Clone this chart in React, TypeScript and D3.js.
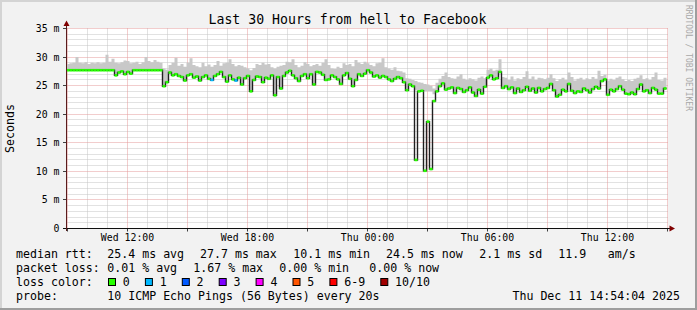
import React from 'react';
import * as d3 from 'd3';

// ---------- data ----------
const START_HOUR = 8.95; // hours since Wed 00:00
const STEP_HOURS = 0.15;
const END_HOUR = 39.0;

// median rtt in ms, one value per 9 minutes
const median = [
  27.7, 27.7, 27.7, 27.7, 27.7, 27.7, 27.7, 27.7, 27.7, 27.7,
  27.7, 27.7, 27.7, 27.7, 27.7, 27.7, 26.8, 27.3, 27.5, 27.0,
  27.4, 27.1, 27.7, 27.7, 27.7, 27.7, 27.7, 27.7, 27.7, 27.7,
  27.7, 27.7, 24.9, 25.6, 27.3, 26.8, 27.0, 26.7, 26.5, 25.9,
  26.8, 27.0, 26.4, 26.6, 25.9, 26.5, 26.8, 26.2, 26.0, 26.7,
  27.0, 27.4, 26.5, 25.7, 26.8, 26.1, 25.9, 26.4, 25.2, 26.3,
  26.7, 24.0, 26.0, 26.6, 26.5, 25.6, 26.4, 26.2, 26.8, 23.3,
  26.5, 24.5, 26.7, 27.3, 27.6, 26.8, 26.3, 25.8, 26.7, 27.0,
  26.3, 27.0, 25.2, 27.4, 27.3, 26.9, 26.0, 26.1, 26.8, 26.5,
  26.1, 25.3, 26.8, 27.2, 26.2, 24.9, 26.0, 27.0, 26.7, 27.1,
  27.7, 27.3, 26.6, 26.8, 26.4, 26.7, 26.5, 26.1, 25.8, 26.2,
  26.5, 26.3, 25.6, 24.2, 25.2, 24.9, 12.0, 24.0, 24.1, 10.1,
  18.7, 10.4, 22.3, 24.0, 24.9, 25.4, 24.3, 24.5, 24.7, 23.7,
  24.6, 24.4, 23.9, 24.2, 24.7, 23.8, 23.2, 24.3, 23.6, 24.8,
  26.4, 26.8, 26.1, 26.3, 27.4, 24.6, 24.9, 24.4, 24.7, 23.7,
  24.5, 23.9, 24.2, 24.8, 24.1, 24.5, 23.8, 24.6, 24.0, 24.4,
  24.6, 25.3, 24.2, 23.1, 23.4, 24.3, 24.0, 25.3, 24.1, 23.7,
  24.0, 23.9, 24.5, 24.2, 23.8, 24.4, 24.8, 24.5, 25.8, 26.1,
  23.4, 24.3, 24.0, 24.4, 24.9, 24.3, 23.6, 23.5, 23.8, 23.5,
  24.4, 25.2, 24.0, 24.2, 23.7, 24.6, 24.3, 23.6, 23.6, 24.5,
];

// top of the smoke (slowest ping) in ms
const smokeMax = [
  28.8, 28.9, 29.0, 30.0, 29.0, 28.9, 29.1, 28.8, 29.0, 28.9,
  29.1, 28.9, 29.0, 30.4, 29.2, 29.7, 29.0, 28.9, 29.1, 29.4,
  29.3, 28.9, 29.0, 29.2, 28.8, 29.1, 30.0, 29.3, 29.1, 29.5,
  29.2, 29.0, 28.0, 27.8, 28.6, 29.0, 29.9, 28.5, 28.8, 28.3,
  29.0, 29.8, 28.6, 28.4, 28.2, 29.0, 28.4, 28.7, 28.3, 28.6,
  29.3, 28.5, 28.9, 29.0, 29.6, 28.8, 28.4, 28.6, 28.5, 28.2,
  28.0, 27.7, 28.1, 28.8, 28.6, 29.0, 28.7, 28.8, 28.2, 28.0,
  28.3, 28.5, 28.6, 29.2, 29.1, 29.6, 28.6, 28.2, 28.5, 29.1,
  28.8, 28.4, 28.6, 28.8, 28.5, 29.0, 29.6, 28.6, 28.0, 27.9,
  28.3, 28.1, 28.9, 28.6, 28.8, 28.4, 29.5, 29.0, 28.8, 29.2,
  28.9, 28.6, 28.4, 28.9, 29.0, 29.8, 28.2, 28.0, 27.8, 28.2,
  27.6, 27.5, 27.3, 26.3, 26.2, 26.0, 25.8, 25.6, 25.5, 25.3,
  25.2, 25.0, 24.5, 25.5, 26.2, 26.7, 27.3, 26.5, 26.3, 26.2,
  26.6, 27.0, 26.2, 26.0, 26.3, 26.1, 25.9, 26.4, 26.6, 26.3,
  27.8, 28.0, 27.6, 27.8, 29.6, 26.5, 26.4, 26.0, 26.6, 25.9,
  26.3, 26.1, 26.5, 27.5, 26.2, 26.6, 26.0, 26.4, 26.3, 26.1,
  26.4, 27.0, 26.3, 25.8, 26.1, 26.4, 26.0, 27.3, 26.5, 25.9,
  26.2, 26.4, 26.0, 26.3, 26.1, 26.5, 26.2, 27.6, 26.7, 26.9,
  25.9, 26.2, 26.0, 26.4, 26.6, 26.1, 25.8, 26.0, 25.8, 26.2,
  26.4, 26.8, 26.1, 26.3, 26.0, 26.5, 27.3, 26.0, 25.9, 26.4,
];

// bottom of the smoke where it does not start at the median (the deep dips)
const smokeLowOverride: [number, number][] = [
  [116, 24.2], [119, 24.0], [120, 24.0], [121, 24.0], [122, 23.5],
];

// sample indices with 1 lost ping
const lossOnePoints = [48, 56];

const yTicks = [0, 5, 10, 15, 20, 25, 30, 35];
const yTickLabels = ['0', '5 m', '10 m', '15 m', '20 m', '25 m', '30 m', '35 m'];
const xTickHours = [12, 18, 24, 30, 36];
const xTickLabels = ['Wed 12:00', 'Wed 18:00', 'Thu 00:00', 'Thu 06:00', 'Thu 12:00'];

const lossLabels = ['0', '1', '2', '3', '4', '5', '6-9', '10/10'];
const lossColors = ['#26ff00', '#00b8ff', '#0059ff', '#7e00ff', '#ff00ff', '#ff5500', '#ff0000', '#a10000'];

const medianRow = ['median rtt:', '25.4 ms avg', '27.7 ms max', '10.1 ms min', '24.5 ms now', '2.1 ms sd', '11.9', 'am/s'];
const lossRow = ['packet loss:', '0.01 % avg', '1.67 % max', '0.00 % min', '0.00 % now'];
const probeRow = ['probe:', '10 ICMP Echo Pings (56 Bytes) every 20s'];
const dateText = 'Thu Dec 11 14:54:04 2025';
const title = 'Last 30 Hours from hell to Facebook';

// ---------- layout ----------
const W = 697;
const H = 310;
const FONT = '"DejaVu Sans Mono", monospace';
const medianRowX = [16, 107.3, 200, 293.3, 386, 479.3, 558.3, 607.7];
const lossRowX = [16, 107.3, 193.3, 279.3, 369.3];
const probeRowX = [16, 107.3];

export default function App() {
  const x = d3.scaleLinear().domain([START_HOUR, END_HOUR]).range([66.5, 667.5]);
  const y = d3.scaleLinear().domain([0, 35]).range([228.5, 28.5]);
  const px = (v: number) => Math.floor(v) + 0.5;

  const lowMap = new Map<number, number>(smokeLowOverride);
  type P = { t: number; m: number; lo: number; hi: number };
  const pts: P[] = median.map((m, i) => ({
    t: START_HOUR + i * STEP_HOURS,
    m,
    lo: lowMap.has(i) ? (lowMap.get(i) as number) : m,
    hi: Math.max(m, smokeMax[i]),
  }));
  const last = pts[pts.length - 1];
  const ext: P[] = [...pts, { ...last, t: START_HOUR + median.length * STEP_HOURS }];

  const smoke = d3.area<P>().x(d => x(d.t)).y0(d => y(d.lo)).y1(d => y(d.hi)).curve(d3.curveStepAfter)(ext) || '';
  const medLine = d3.line<P>().x(d => x(d.t)).y(d => y(d.m)).curve(d3.curveStepAfter)(ext) || '';

  const hours = d3.range(9, 40);
  const ms = d3.range(1, 36);
  const x0 = 66.5, x1 = 668;
  const yTop = 28.5, yBot = 228.5;

  const lossBoxX: number[] = [];
  let cur = 108.5;
  lossLabels.forEach(l => { lossBoxX.push(cur); cur += 14.3 + l.length * 7.0 + 15.6; });

  return (
    <svg width={W} height={H} viewBox={`0 0 ${W} ${H}`} style={{ position: 'absolute', left: 0, top: 0 }} fontFamily={FONT}>
      <rect x={0} y={0} width={W} height={H} fill="#f2f2f2" />
      <path d={`M0,0H${W}V2H2V${H}H0Z`} fill="#d4d4d4" />
      <path d={`M${W},${H}H0V${H - 2}H${W - 2}V0H${W}Z`} fill="#9e9e9e" />

      <rect x={67} y={28} width={x1 - 67} height={yBot - 28} fill="#ffffff" />

      {hours.filter(h => h % 3 !== 0).map(h => (
        <line key={'vh' + h} x1={px(x(h))} x2={px(x(h))} y1={yTop} y2={yBot} stroke="#c4c4c4" strokeDasharray="1 1" />
      ))}
      {ms.filter(v => v % 5 !== 0).map(v => (
        <line key={'hm' + v} x1={x0} x2={x1} y1={px(y(v))} y2={px(y(v))} stroke="#c4c4c4" strokeDasharray="1 1" />
      ))}
      {hours.filter(h => h % 3 === 0).map(h => (
        <line key={'vM' + h} x1={px(x(h))} x2={px(x(h))} y1={yTop} y2={yBot} stroke="#e49a9a" strokeDasharray="1 1" />
      ))}
      {yTicks.filter(v => v > 0).map(v => (
        <line key={'hM' + v} x1={x0} x2={x1} y1={px(y(v))} y2={px(y(v))} stroke="#e49a9a" strokeDasharray="1 1" />
      ))}

      <path d={smoke} fill="#c8c8c8" />
      <path d={medLine} fill="none" stroke="#202020" strokeWidth={1.4} />
      {pts.map((p, i) => (
        <rect key={'m' + i} x={x(p.t)} y={y(p.m) - 1.3} width={x(p.t + STEP_HOURS) - x(p.t)} height={2.6}
          fill={lossOnePoints.includes(i) ? lossColors[1] : lossColors[0]} />
      ))}

      {yTicks.map(v => (
        <line key={'yt' + v} x1={63} x2={66.5} y1={px(y(v))} y2={px(y(v))} stroke="#404040" />
      ))}
      {hours.filter(h => h % 3 === 0).map(h => (
        <line key={'xt' + h} x1={px(x(h))} x2={px(x(h))} y1={yBot} y2={yBot + 3} stroke="#404040" />
      ))}
      <line x1={63} x2={671} y1={yBot} y2={yBot} stroke="#101010" />
      <path d={`M669.5,${yBot - 3}L675,${yBot}L669.5,${yBot + 3}Z`} fill="#800000" />
      <line x1={66.5} x2={66.5} y1={231} y2={24} stroke="#5a1c1c" />
      <path d={`M63.5,26L66.5,20.5L69.5,26Z`} fill="#800000" />

      {yTicks.map((v, i) => (
        <text key={'yl' + v} x={59.5} y={px(y(v)) + 3.5} fontSize={9.85} textAnchor="end" fill="#000">{yTickLabels[i]}</text>
      ))}
      {xTickHours.map((h, i) => (
        <text key={'xl' + h} x={px(x(h))} y={240.5} fontSize={9.85} textAnchor="middle" fill="#000">{xTickLabels[i]}</text>
      ))}

      <text x={347.5} y={24} fontSize={13.2} textAnchor="middle" fill="#000">{title}</text>
      <text transform="translate(14.3,128.5) rotate(-90)" fontSize={11.6} textAnchor="middle" fill="#000">Seconds</text>
      <text transform="translate(685.5,5) rotate(90)" fontSize={8} fill="#a8a8a8">RRDTOOL / TOBI OETIKER</text>

      {medianRow.map((s, i) => (
        <text key={'mr' + i} x={medianRowX[i]} y={258} fontSize={11.6} fill="#000" style={{ whiteSpace: 'pre' }}>{s}</text>
      ))}
      {lossRow.map((s, i) => (
        <text key={'lr' + i} x={lossRowX[i]} y={272} fontSize={11.6} fill="#000" style={{ whiteSpace: 'pre' }}>{s}</text>
      ))}
      <text x={16} y={285.8} fontSize={11.6} fill="#000">loss color:</text>
      {lossLabels.map((l, i) => (
        <g key={'ll' + i}>
          <rect x={lossBoxX[i]} y={278.5} width={7} height={7} fill={lossColors[i]} stroke="#000" strokeWidth={1} />
          <text x={lossBoxX[i] + 14.3} y={285.8} fontSize={11.6} fill="#000">{l}</text>
        </g>
      ))}
      {probeRow.map((s, i) => (
        <text key={'pr' + i} x={probeRowX[i]} y={299.5} fontSize={11.6} fill="#000" style={{ whiteSpace: 'pre' }}>{s}</text>
      ))}
      <text x={680} y={299.5} fontSize={11.6} textAnchor="end" fill="#000">{dateText}</text>
    </svg>
  );
}
